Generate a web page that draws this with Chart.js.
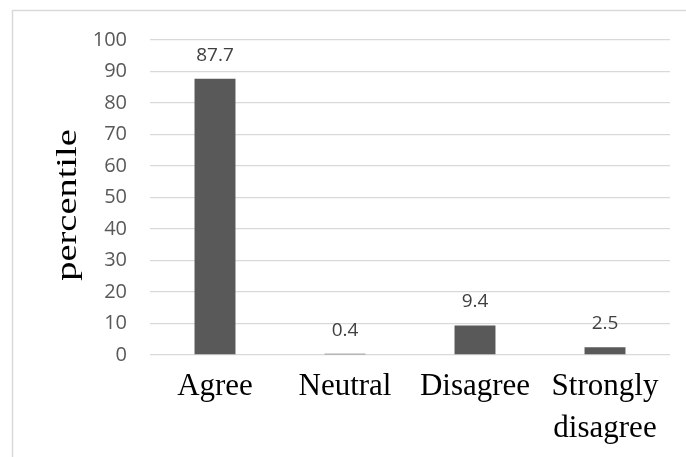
<!DOCTYPE html>
<html>
<head>
<meta charset="utf-8">
<script src="https://cdn.jsdelivr.net/npm/chart.js@4/dist/chart.umd.min.js"></script>
<style>
  html, body { margin: 0; padding: 0; background: #fff; }
  #wrap { width: 686px; height: 457px; position: relative; }
</style>
</head>
<body>
<div id="wrap"><canvas id="chart" width="686" height="457"></canvas></div>
<script>
const categories = ['Agree', 'Neutral', 'Disagree', ['Strongly', 'disagree']];
const percentValues = [87.7, 0.4, 9.4, 2.5];
const yTicks = [0, 10, 20, 30, 40, 50, 60, 70, 80, 90, 100];
const yTitle = 'percentile';

// light frame round the picture (top and left edges only are visible)
const framePlugin = {
    id: 'frame',
    beforeDraw(chart) {
        const c = chart.ctx;
        c.save();
        c.strokeStyle = '#d9d9d9';
        c.lineWidth = 1.5;
        c.beginPath();
        c.moveTo(12.5, chart.height + 5);
        c.lineTo(12.5, 10.5);
        c.lineTo(chart.width + 5, 10.5);
        c.stroke();
        c.restore();
    }
};

// rotated y title, a little stretched along its length like the source
const yTitlePlugin = {
    id: 'yTitle',
    afterDraw(chart) {
        const c = chart.ctx;
        c.save();
        c.translate(76, 205);
        c.rotate(-Math.PI / 2);
        c.scale(1.28, 1);
        c.font = '30px "Liberation Serif"';
        c.fillStyle = '#000';
        c.textAlign = 'center';
        c.textBaseline = 'alphabetic';
        c.fillText(yTitle, 0, 0);
        c.restore();
    }
};

// value labels above bars
const valueLabels = {
    id: 'valueLabels',
    afterDatasetsDraw(chart) {
        const c = chart.ctx;
        const meta = chart.getDatasetMeta(0);
        c.save();
        c.font = '19px "Open Sans"';
        c.fillStyle = '#404040';
        c.textAlign = 'center';
        c.textBaseline = 'alphabetic';
        meta.data.forEach((bar, i) => {
            c.fillText(percentValues[i].toFixed(1), bar.x, bar.y - 18);
        });
        c.restore();
    }
};

new Chart(document.getElementById('chart').getContext('2d'), {
    type: 'bar',
    data: {
        labels: categories,
        datasets: [{
            data: percentValues,
            backgroundColor: '#595959',
            borderWidth: 0,
            categoryPercentage: 1,
            barPercentage: 0.315
        }]
    },
    options: {
        responsive: false,
        animation: false,
        layout: { padding: { top: 40, right: 16, bottom: 0, left: 0 } },
        plugins: {
            legend: { display: false },
            tooltip: { enabled: false }
        },
        scales: {
            x: {
                grid: { display: false, drawTicks: false },
                border: { display: false },
                ticks: {
                    color: '#000',
                    font: { family: '"Liberation Serif"', size: 31, lineHeight: 1.35 },
                    padding: 11,
                    maxRotation: 0,
                    autoSkip: false
                },
                afterFit(scale) { scale.height = 102; }
            },
            y: {
                min: 0,
                max: 100,
                afterBuildTicks(scale) { scale.ticks = yTicks.map(v => ({ value: v })); },
                grid: { color: '#d9d9d9', lineWidth: 1.3, drawTicks: false },
                border: { display: false },
                ticks: {
                    color: '#595959',
                    font: { family: '"Open Sans"', size: 20 },
                    padding: 23
                },
                afterFit(scale) { scale.width = 150; }
            }
        }
    },
    plugins: [framePlugin, yTitlePlugin, valueLabels]
});
</script>
</body>
</html>
